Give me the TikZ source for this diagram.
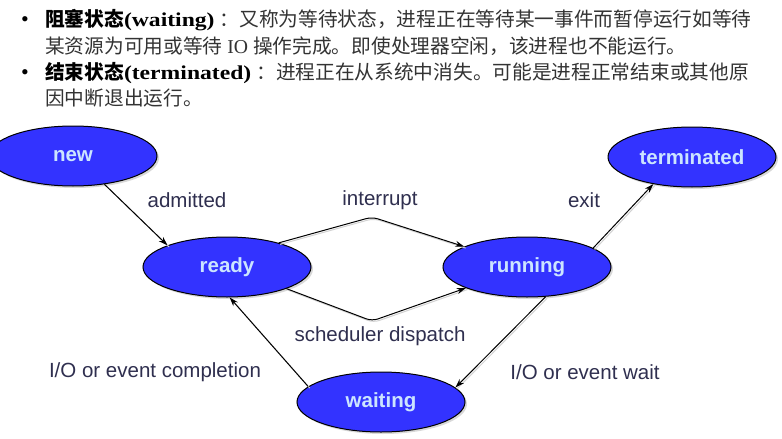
\documentclass[tikz,border=0pt]{standalone}
\usepackage{fontspec}
\setmainfont{Liberation Serif}
\setsansfont{Liberation Sans}
\newfontfamily\cjk{Noto Sans CJK SC}
\newfontfamily\widebold[FakeStretch=1.2]{Liberation Serif}
\usetikzlibrary{shapes.geometric, shadows, arrows.meta}
\definecolor{stateblue}{HTML}{3333FF}
\definecolor{statetext}{HTML}{CCE5FF}
\definecolor{labelink}{HTML}{2F2F4F}
\definecolor{bodyink}{HTML}{333333}
\tikzstyle{state}=[ellipse, draw=black, fill=stateblue, line width=1pt, minimum width=168pt, minimum height=60pt, inner sep=0pt, text=statetext, font=\sffamily\bfseries\fontsize{20.5}{22}\selectfont, drop shadow={shadow xshift=2pt, shadow yshift=-2pt, fill=gray!60}]
\tikzstyle{lbl}=[text=labelink, font=\sffamily\fontsize{20.5}{22}\selectfont, inner sep=0pt]
\tikzstyle{trans}=[line width=1pt, -{Stealth[length=9pt,width=6pt]}, preaction={-, draw=gray!35, line width=1pt, transform canvas={shift={(1.5pt,-1.5pt)}}}]
\tikzstyle{textline}=[anchor=base west, inner sep=0pt, text=bodyink, font=\fontsize{19.7}{24}\selectfont]
\tikzstyle{bullet}=[anchor=base, inner sep=0pt, text=black, font=\fontsize{22}{24}\selectfont]

\begin{document}
\begin{tikzpicture}[x=1pt, y=-1pt]
    \useasboundingbox (0,0) rectangle (782,439);
    % text above the diagram
    \node[bullet] (b1) at (25,27) {\textbullet};
    \node[textline] (t1) at (45,27) {\textcolor{black}{{\cjk\bfseries 阻塞状态}{\widebold\bfseries (waiting)}}\hspace{5pt}{\cjk ：又称为等待状态，进程正在等待某一事件而暂停运行如等待}};
    \node[textline] (t2) at (45,53) {{\cjk 某资源为可用或等待} IO {\cjk 操作完成。即使处理器空闲，该进程也不能运行。}};
    \node[bullet] (b2) at (25,79) {\textbullet};
    \node[textline] (t3) at (45,79) {\textcolor{black}{{\cjk\bfseries 结束状态}{\widebold\bfseries (terminated)}}\hspace{5pt}{\cjk ：进程正在从系统中消失。可能是进程正常结束或其他原}};
    \node[textline] (t4) at (45,105) {{\cjk 因中断退出运行。}};
    % states
    \node[state] (new) at (73,156) {new};
    \node[state] (ready) at (227,267) {ready};
    \node[state] (running) at (527,267) {running};
    \node[state] (terminated) at (692,157) {terminated};
    \node[state] (waiting) at (381,402) {waiting};
    \coordinate (top) at (372,217);
    \coordinate (bottom) at (372,321);
    % transitions
    \draw[trans] (new.-42) -- (ready.160);
    \draw[trans, rounded corners=6pt] (ready.25) -- (top) -- (running.162);
    \draw[trans, rounded corners=6pt] (ready.-20) -- (bottom) -- (running.199);
    \draw[trans] (running.16) -- (terminated.215);
    \draw[trans] (running.-58) -- (waiting.11);
    \draw[trans] (waiting.168) -- (ready.-85);
    % labels
    \node[lbl] (admitted) at (187,200) {admitted};
    \node[lbl] (interrupt) at (380,200) {interrupt};
    \node[lbl] (exit) at (584,200) {exit};
    \node[lbl] (dispatch) at (380,336) {scheduler dispatch};
    \node[lbl] (completion) at (155,372) {I/O or event completion};
    \node[lbl] (wait) at (585,372) {I/O or event wait};
\end{tikzpicture}
\end{document}
